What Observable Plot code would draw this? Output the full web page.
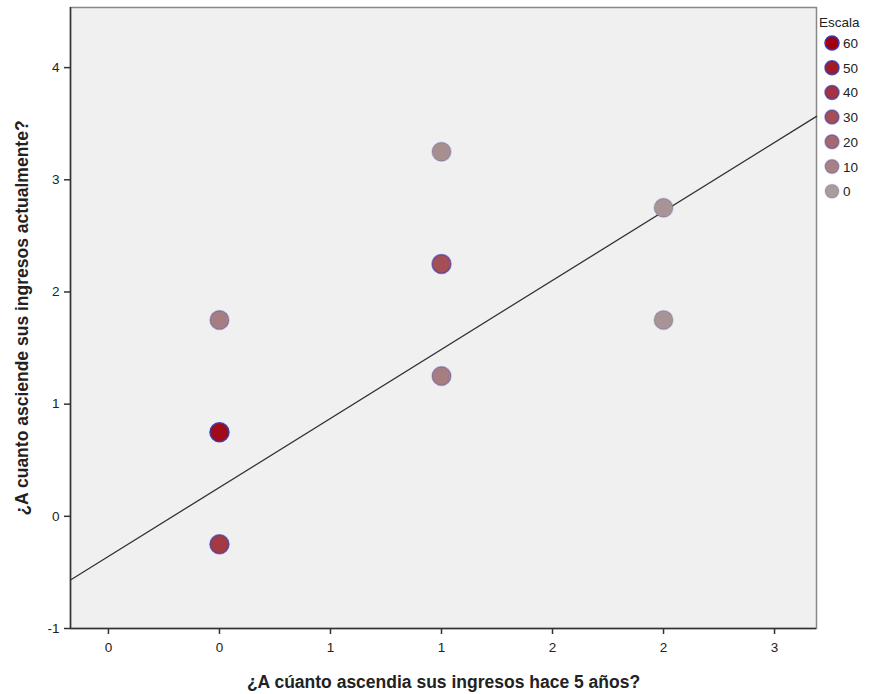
<!DOCTYPE html>
<html>
<head>
<meta charset="utf-8">
<script src="https://cdn.jsdelivr.net/npm/d3@7"></script>
<script src="https://cdn.jsdelivr.net/npm/@observablehq/plot@0.6"></script>
<style>
  body { margin: 0; background: #fff; }
  #chart svg { display: block; }
  #chart [aria-label="x-axis label"] text, #chart [aria-label="y-axis label"] text { font-weight: bold; font-size: 17.5px; fill: #222; }
  #chart g[aria-label="x-axis tick label"], #chart g[aria-label="y-axis tick label"] { font-size: 13.5px; }
  #chart g[aria-label="x-axis tick label"] text, #chart g[aria-label="y-axis tick label"] text { font-size: 13.5px; }
</style>
</head>
<body>
<div id="chart"></div>
<script>
// ---- data ----
const xValues = [0, 0, 0, 1, 1, 1, 2, 2];
const yValues = [1.75, 0.75, -0.25, 3.25, 2.25, 1.25, 2.75, 1.75];
const escala  = [12, 56, 38, 5, 30, 12, 3, 3];
const xTickValues = [-0.5, 0, 0.5, 1, 1.5, 2, 2.5];
const xTickLabels = ["0", "0", "1", "1", "2", "2", "3"];
const yTickValues = [-1, 0, 1, 2, 3, 4];
const yTickLabels = ["-1", "0", "1", "2", "3", "4"];
const legendValues = [60, 50, 40, 30, 20, 10, 0];
const fitIntercept = 0.258;
const fitSlope = 1.23;
const xDomain = [-0.671, 2.689];
const yDomain = [-1, 4.536];

const points = xValues.map((x, i) => ({x, y: yValues[i], n: escala[i]}));
const fitLine = xDomain.map(x => ({x, y: fitIntercept + fitSlope * x}));
const strokeOp = n => 0.15 + 0.85 * n / 60;

const W = 876, H = 694, ML = 70, MR = 60, MT = 7, MB = 66;

const plot = Plot.plot({
  width: W, height: H,
  marginLeft: ML, marginRight: MR, marginTop: MT, marginBottom: MB,
  style: {fontFamily: "'Liberation Sans', Arial, sans-serif", fontSize: "13px", color: "#222", background: "#fff"},
  x: {domain: xDomain},
  y: {domain: yDomain},
  color: {type: "linear", domain: [0, 60], range: ["#a89c9c", "#a00010"], interpolate: "rgb"},
  opacity: {type: "identity"},
  marks: [
    Plot.frame({fill: "#f0f0f0", stroke: "#888", strokeWidth: 1.5}),
    Plot.ruleX([xDomain[0]], {stroke: "#333", strokeWidth: 1.5}),
    Plot.ruleY([yDomain[0]], {stroke: "#333", strokeWidth: 1.5}),
    Plot.axisX({ticks: xTickValues, tickFormat: (d, i) => xTickLabels[i], tickSize: 6, tickPadding: 8,
      stroke: "#333", strokeWidth: 1.5, fill: "#222", fontSize: 13.5,
      label: "¿A cúanto ascendia sus ingresos hace 5 años?", labelArrow: "none", labelAnchor: "center", labelOffset: 59}),
    Plot.axisY({ticks: yTickValues, tickFormat: (d, i) => yTickLabels[i], tickSize: 6, tickPadding: 5,
      stroke: "#333", strokeWidth: 1.5, fill: "#222", fontSize: 13.5,
      label: "¿A cuanto asciende sus ingresos actualmente?", labelArrow: "none", labelAnchor: "center", labelOffset: 55}),
    Plot.line(fitLine, {x: "x", y: "y", stroke: "#333", strokeWidth: 1.3}),
    Plot.dot(points, {x: "x", y: "y", r: 9.5, fill: d => d.n, stroke: "#3a3ab0",
      strokeOpacity: d => strokeOp(d.n), strokeWidth: 1.5})
  ]
});

// legend drawn in the same SVG using the plot's color scale
const color = plot.scale("color");
const colorFn = d3.scaleLinear().domain(color.domain).range(color.range).interpolate(d3.interpolateRgb);
const svg = d3.select(plot);
const lg = svg.append("g").attr("font-family", "'Liberation Sans', Arial, sans-serif")
  .attr("font-size", 13.5).attr("fill", "#222").attr("text-anchor", "start");
lg.append("text").attr("x", 819).attr("y", 27).text("Escala");
const step = 24.7;
legendValues.forEach((v, i) => {
  const cy = 43 + i * step;
  lg.append("circle").attr("cx", 832).attr("cy", cy).attr("r", 7)
    .attr("fill", colorFn(v)).attr("stroke", "#3a3ab0").attr("stroke-opacity", strokeOp(v)).attr("stroke-width", 1.5);
  lg.append("text").attr("x", 843).attr("y", cy + 5).text(String(v));
});

document.getElementById("chart").appendChild(plot);
</script>
</body>
</html>
